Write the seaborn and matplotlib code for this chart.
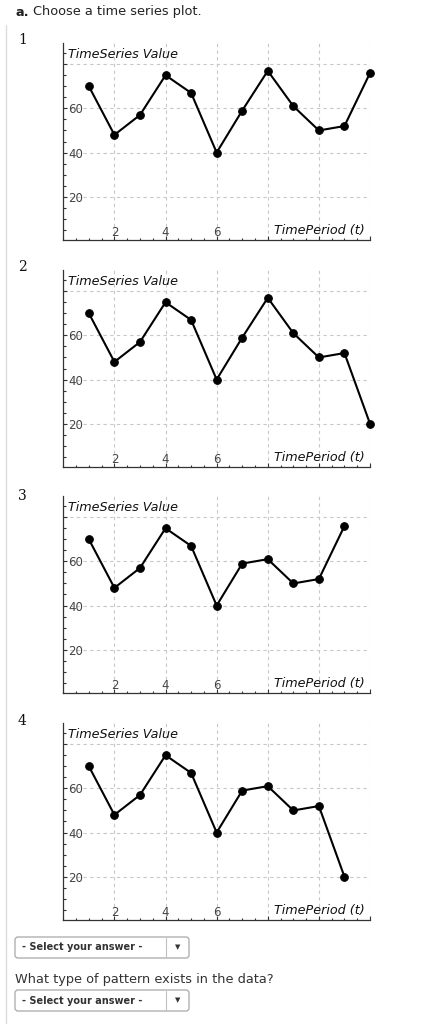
import numpy as np
import seaborn as sns
import matplotlib.pyplot as plt
from matplotlib.patches import FancyBboxPatch
from matplotlib.ticker import MultipleLocator

# Time series options
t_long = [1, 2, 3, 4, 5, 6, 7, 8, 9, 10, 11, 12]
t_short = [1, 2, 3, 4, 5, 6, 7, 8, 9, 10, 11]
series_1 = [70, 48, 57, 75, 67, 40, 59, 77, 61, 50, 52, 76]
series_2 = [70, 48, 57, 75, 67, 40, 59, 77, 61, 50, 52, 20]
series_3 = [70, 48, 57, 75, 67, 40, 59, 61, 50, 52, 76]
series_4 = [70, 48, 57, 75, 67, 40, 59, 61, 50, 52, 20]

x_ticks = [2, 4, 6, 8, 10, 12]
x_tick_labels = ['2', '4', '6', '', '', '']
y_ticks = [20, 40, 60, 80]
y_tick_labels = ['20', '40', '60', '']

options = [('1', t_long, series_1), ('2', t_long, series_2),
           ('3', t_short, series_3), ('4', t_short, series_4)]

sns.set_style('white')
plt.rcParams['font.family'] = ['DejaVu Sans']

W, H = 434, 1024
fig = plt.figure(figsize=(W / 100, H / 100), dpi=100)

# page background in pixel coords
bg = fig.add_axes([0, 0, 1, 1])
bg.set_xlim(0, W)
bg.set_ylim(H, 0)
bg.axis('off')
bg.plot([6, 6], [25, H], color='#dddddd', lw=1)
bg.text(15, 12, 'a.', fontsize=9.3, fontweight='bold', color='#222', va='center')
bg.text(33, 12, 'Choose a time series plot.', fontsize=9.3, color='#222', va='center')

# plot frames (top, bottom) in pixels
frames = [(43, 240), (270, 467), (496, 693), (723, 920)]
number_y = [40, 267, 496, 721]
left_px, right_px = 63.3, 370

for (num, t, vals), (top, bot), ny in zip(options, frames, number_y):
    bg.text(18, ny, num, fontsize=10, family='DejaVu Serif', color='#111', va='center')
    ax = fig.add_axes([left_px / W, 1 - bot / H, (right_px - left_px) / W, (bot - top) / H])
    ax.set_facecolor('none')
    sns.lineplot(x=t, y=vals, ax=ax, color='black', linewidth=1.5, marker='o',
                 markersize=5.5, markeredgecolor='black', clip_on=False)
    ax.set_xlim(0, 12)
    ax.set_ylim(0.4, 89.6)
    ax.set_xticks(x_ticks)
    ax.set_xticklabels(x_tick_labels)
    ax.set_yticks(y_ticks)
    ax.set_yticklabels(y_tick_labels)
    ax.xaxis.set_minor_locator(MultipleLocator(0.5))
    ax.yaxis.set_minor_locator(MultipleLocator(5))
    ax.grid(True, which='major', color='#c8c8c8', linestyle=(0, (3, 3)), linewidth=0.8)
    ax.set_axisbelow(True)
    for s in ['top', 'right']:
        ax.spines[s].set_visible(False)
    for s in ['left', 'bottom']:
        ax.spines[s].set_color('#333333')
        ax.spines[s].set_linewidth(0.9)
    ax.tick_params(which='both', direction='in', color='#333333', width=0.8,
                   bottom=True, left=True, top=False, right=False)
    ax.tick_params(which='major', length=3.2)
    ax.tick_params(which='minor', length=1.8)
    ax.tick_params(axis='y', pad=-3.5, labelsize=8.5, labelcolor='#444444')
    ax.tick_params(axis='x', pad=-1, labelsize=8.5, labelcolor='#444444')
    for lab in ax.get_yticklabels():
        lab.set_horizontalalignment('left')
    for lab in ax.get_xticklabels():
        lab.set_verticalalignment('bottom')
    ax.set_xlabel('')
    ax.set_ylabel('')
    ax.text(0.015, 0.944, 'TimeSeries Value', transform=ax.transAxes, fontsize=9.2,
            style='italic', color='#111', va='center', ha='left')
    ax.text(0.984, 0.05, 'TimePeriod (t)', transform=ax.transAxes, fontsize=9.2,
            style='italic', color='#111', va='center', ha='right')

# answer dropdowns
def dropdown(y0, y1):
    box = FancyBboxPatch((15, y0), 174, y1 - y0, boxstyle='round,pad=0,rounding_size=3',
                         facecolor='white', edgecolor='#a8a8a8', linewidth=0.9)
    bg.add_patch(box)
    bg.plot([166, 166], [y0 + 1, y1 - 1], color='#c0c0c0', lw=0.8)
    bg.text(22, (y0 + y1) / 2, '- Select your answer -', fontsize=7, fontweight='bold',
            color='#333', va='center')
    bg.text(177.5, (y0 + y1) / 2, '▼', fontsize=5, color='#333', va='center', ha='center')

dropdown(937, 958)
bg.text(15, 979, 'What type of pattern exists in the data?', fontsize=9.3, color='#333', va='center')
dropdown(990, 1011)

plt.savefig('out.png', dpi=100)
